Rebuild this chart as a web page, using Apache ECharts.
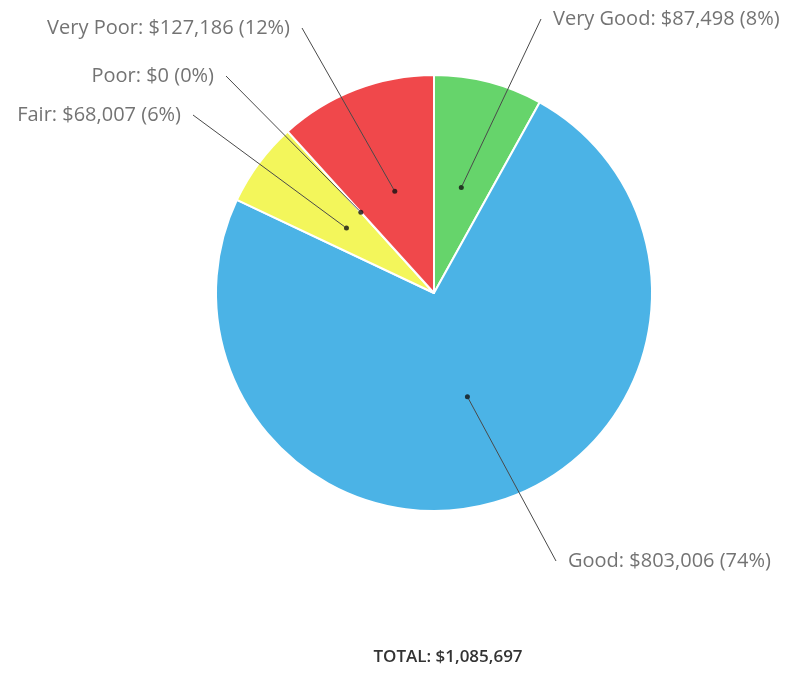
<!DOCTYPE html>
<html>
<head>
<meta charset="utf-8">
<title>Condition breakdown</title>
<script src="https://cdn.jsdelivr.net/npm/echarts@6/dist/echarts.min.js"></script>
<style>
  html, body { margin: 0; padding: 0; background: #fff; }
  #chart { width: 787px; height: 692px; }
</style>
</head>
<body>
<div id="chart"></div>
<script>
// Condition categories, in drawing order (clockwise from 12 o'clock)
const categories = ['Very Good', 'Good', 'Fair', 'Poor', 'Very Poor'];
const values = [87498, 803006, 68007, 0, 127186];
const colors = ['#66D46B', '#4BB3E6', '#F3F65B', '#E9A33F', '#F0484B'];

// Where each callout label sits, and which side of the label the line meets
const labelSpots = [
  { x: 541, y: 19, align: 'left' },
  { x: 556, y: 561, align: 'left' },
  { x: 193, y: 115, align: 'right' },
  { x: 226, y: 76, align: 'right' },
  { x: 302, y: 28, align: 'right' }
];

const total = values.reduce((a, b) => a + b, 0);
const money = v => '$' + v.toLocaleString('en-US');
const pct = v => Math.round(v / total * 100) + '%';

// Mid-angle (as a running value) of each slice, used to place the callout dots
const mids = [];
let run = 0;
values.forEach(v => { mids.push(run + v / 2); run += v; });

const center = [434, 293];
const radius = 218;

const chart = echarts.init(document.getElementById('chart'), null, { renderer: 'canvas' });

chart.setOption({
  animation: false,
  backgroundColor: '#ffffff',
  polar: { center: center, radius: radius },
  angleAxis: {
    type: 'value', min: 0, max: total, startAngle: 90, clockwise: true,
    show: false
  },
  radiusAxis: { type: 'value', min: 0, max: 1, show: false },
  series: [
    {
      type: 'pie',
      center: center,
      radius: radius,
      startAngle: 90,
      clockwise: true,
      silent: true,
      label: { show: false },
      labelLine: { show: false },
      itemStyle: { borderColor: '#ffffff', borderWidth: 2 },
      data: categories.map((c, i) => ({
        name: c, value: values[i], itemStyle: { color: colors[i] }
      }))
    },
    {
      type: 'scatter',
      coordinateSystem: 'polar',
      symbol: 'circle',
      symbolSize: 5,
      silent: true,
      itemStyle: { color: '#111111' },
      data: mids.map((m, i) => ({ name: categories[i], value: [0.5, m] })),
      label: {
        show: true,
        position: 'top',
        padding: [2, 12],
        backgroundColor: 'rgba(255,255,255,0)',
        fontFamily: 'Open Sans',
        fontSize: 20,
        color: '#505050',
        formatter: p => categories[p.dataIndex] + ': ' + money(values[p.dataIndex]) +
          ' (' + pct(values[p.dataIndex]) + ')'
      },
      labelLine: {
        show: true,
        length2: 0,
        lineStyle: { color: '#4a4a4a', width: 1 }
      },
      labelLayout: p => {
        const s = labelSpots[p.dataIndex];
        return { x: s.x, y: s.y, align: s.align, verticalAlign: 'middle' };
      }
    }
  ],
  graphic: [
    {
      type: 'text',
      x: 448,
      y: 657,
      style: {
        text: 'TOTAL: ' + money(total),
        align: 'center',
        verticalAlign: 'middle',
        font: '600 17px "Open Sans"',
        fill: '#333333'
      }
    }
  ]
});
</script>
</body>
</html>
